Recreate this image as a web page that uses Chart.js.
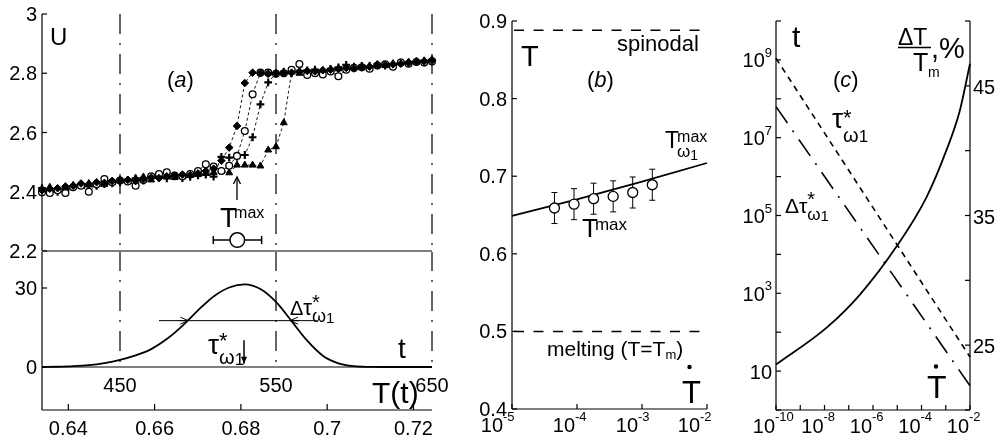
<!DOCTYPE html>
<html><head><meta charset="utf-8">
<script src="https://cdn.jsdelivr.net/npm/chart.js@4.4.1/dist/chart.umd.min.js"></script>
<style>
html,body{margin:0;padding:0;background:#fff;}
#wrap{position:relative;width:996px;height:441px;overflow:hidden;background:#fff;}
#wrap canvas{position:absolute;left:0;top:0;}
</style></head><body>
<div id="wrap">
<canvas id="cA1" width="996" height="441"></canvas>
<canvas id="cA2" width="996" height="441"></canvas>
<canvas id="cB" width="996" height="441"></canvas>
<canvas id="cC" width="996" height="441"></canvas>
</div>
<script>
// ================= DATA =================
// Panel (a), top: U(t) for four runs
const tGrid = [400,405,410,415,420,425,430,435,440,445,450,455,460,465,470,475,480,485,490,495,500,505,510,515,520,525,530,535,540,545,550,555,560,565,570,575,580,585,590,595,600,605,610,615,620,625,630,635,640,645,650];
const uDiamond = [2.405,2.410,2.412,2.418,2.420,2.428,2.425,2.432,2.430,2.436,
  2.438,2.440,2.436,2.442,2.448,2.446,2.452,2.455,2.458,2.456,
  2.462,2.470,2.478,2.505,2.549,2.622,2.767,2.802,2.800,2.798,
  2.800,2.800,2.802,2.805,2.808,2.806,2.810,2.812,2.815,2.818,
  2.816,2.820,2.822,2.826,2.828,2.830,2.832,2.835,2.838,2.840,2.842];
const uCircle = [2.398,2.396,2.405,2.396,2.415,2.420,2.400,2.425,2.443,2.432,
  2.438,2.435,2.420,2.440,2.452,2.460,2.466,2.455,2.452,2.460,
  2.470,2.493,2.485,2.470,2.488,2.521,2.605,2.729,2.802,2.802,
  2.798,2.800,2.812,2.831,2.794,2.800,2.796,2.806,2.790,2.812,
  2.818,2.820,2.815,2.826,2.830,2.822,2.836,2.832,2.838,2.836,2.840];
const uPlus = [2.412,2.405,2.400,2.410,2.416,2.425,2.418,2.420,2.426,2.428,
  2.432,2.440,2.445,2.438,2.450,2.448,2.445,2.452,2.446,2.450,
  2.455,2.458,2.451,2.518,2.515,2.518,2.524,2.584,2.695,2.769,
  2.800,2.805,2.800,2.808,2.810,2.812,2.808,2.815,2.820,2.828,
  2.818,2.825,2.822,2.830,2.826,2.832,2.836,2.834,2.840,2.842,2.845];
const uTriangle = [2.410,2.415,2.408,2.412,2.422,2.420,2.428,2.430,2.425,2.436,
  2.440,2.438,2.445,2.450,2.440,2.455,2.452,2.448,2.455,2.460,
  2.458,2.462,2.465,2.470,2.464,2.490,2.490,2.490,2.487,2.541,
  2.552,2.633,2.805,2.800,2.802,2.808,2.810,2.812,2.815,2.818,
  2.822,2.820,2.825,2.828,2.826,2.832,2.835,2.838,2.840,2.842,2.846];
const tVLines = [450, 550, 650];
const tmaxT = [525.2], tmaxU = [2.237], tmaxErrT = [509.8, 540.8];
const uTicks = [2.2, 2.4, 2.6, 2.8, 3.0];
const uTickLabels = ['2.2', '2.4', '2.6', '2.8', '3'];

// Panel (a), bottom: distribution of t
const gT   = [400,410,420,430,440,450,460,470,480,490,500,510,520,530,540,550,560,570,580,590,600,610,620,635,650];
const gVal = [0,0.1,0.3,0.7,1.5,2.7,4.4,6.8,10.6,15.6,21.5,26.8,30.2,31.4,29.6,24.7,17.4,10.0,4.3,1.4,0.3,0.05,0,0,0];
const halfLevel = 17.6, halfSpanT = [475, 576], halfHitT = [493.8, 559];
const gTicks = [0, 30];
const tLabelTicks = [450, 550, 650];
const TTicks = [0.64, 0.66, 0.68, 0.70, 0.72];
const TTickLabels = ['0.64', '0.66', '0.68', '0.7', '0.72'];

// Panel (b)
const bRate = [4.5e-5, 9e-5, 1.8e-4, 3.6e-4, 7.2e-4, 1.44e-3];
const bTmax = [0.659, 0.664, 0.671, 0.674, 0.679, 0.689];
const bErr  = [0.020, 0.020, 0.020, 0.020, 0.020, 0.020];
const bLineRate = [1e-5, 1e-4, 1e-3, 1e-2];
const bLineT    = [0.649, 0.670, 0.693, 0.717];
const bSpinodal = 0.888, bMelting = 0.5;
const bYTicks = [0.4, 0.5, 0.6, 0.7, 0.8, 0.9];
const bYTickLabels = ['0.4', '0.5', '0.6', '0.7', '0.8', '0.9'];
const bXTicks = [1e-5, 1e-4, 1e-3, 1e-2];
const bXExp = ['-5', '-4', '-3', '-2'];

// Panel (c)
const cTauRate = [1e-10, 1e-2],  cTau  = [1.1e9, 23];
const cDTauRate = [1e-10, 1e-2], cDTau = [6.3e7, 4.2];
const cUnderRate = [1e-10, 1.23e-8, 2.9e-7, 9.3e-6, 1.6e-4, 1.05e-3, 3.7e-3, 1e-2];
const cUnder     = [23.5, 26.35, 28.9, 32.6, 36.4, 40.0, 43.0, 46.7];
const cYTicks = [1,10,1e2,1e3,1e4,1e5,1e6,1e7,1e8,1e9,1e10];
const cYLabelTicks = [10, 1e3, 1e5, 1e7, 1e9];
const cYLabelExp = ['', '3', '5', '7', '9'];
const cRTicks = [20, 25, 30, 35, 40, 45, 50];
const cRLabelTicks = [25, 35, 45];
const cXTicks = [1e-10,1e-9,1e-8,1e-7,1e-6,1e-5,1e-4,1e-3,1e-2];
const cXLabelTicks = [1e-10, 1e-8, 1e-6, 1e-4, 1e-2];
const cXExp = ['-10', '-8', '-6', '-4', '-2'];

// annotation anchors (data units)
const tmaxArrow = {t: 525, from: 2.372, to: 2.45};
const tauArrow = {t: 529.5, from: 10.2, to: 1.2};

// ================= HELPERS =================
const W = 996, H = 441;
const FONT = '"Liberation Sans", Arial, Helvetica, sans-serif';
Chart.defaults.font.family = FONT;
Chart.defaults.color = '#000';

function setFont(ctx, s, it) { ctx.font = (it ? 'italic ' : '') + s + 'px ' + FONT; }
function seg(ctx, x1, y1, x2, y2, w = 1.2) {
  ctx.save(); ctx.strokeStyle = '#000'; ctx.lineWidth = w; ctx.setLineDash([]);
  ctx.beginPath(); ctx.moveTo(x1, y1); ctx.lineTo(x2, y2); ctx.stroke(); ctx.restore();
}
function txt(ctx, s, x, y, size, align = 'left', it = false) {
  ctx.save(); setFont(ctx, size, it); ctx.fillStyle = '#000'; ctx.textAlign = align;
  ctx.textBaseline = 'alphabetic'; ctx.fillText(s, x, y); ctx.restore();
}
function rich(ctx, x, y, runs, align = 'left') {
  ctx.save();
  let cx = 0, prev = 0, maxX = 0; const pos = [];
  runs.forEach(r => {
    setFont(ctx, r.s, r.it);
    const w = ctx.measureText(r.t).width;
    const st = (r.back ? prev : cx) + (r.dx || 0);
    pos.push(st); prev = st; cx = st + w; if (cx > maxX) maxX = cx;
  });
  const x0 = align === 'center' ? x - maxX / 2 : align === 'right' ? x - maxX : x;
  ctx.fillStyle = '#000'; ctx.textAlign = 'left'; ctx.textBaseline = 'alphabetic';
  runs.forEach((r, i) => { setFont(ctx, r.s, r.it); ctx.fillText(r.t, x0 + pos[i], y + (r.dy || 0)); });
  ctx.restore();
  return maxX;
}
function arrow(ctx, x1, y1, x2, y2, len = 7, half = 3, w = 1.3, fill = true) {
  seg(ctx, x1, y1, x2, y2, w);
  const a = Math.atan2(y2 - y1, x2 - x1);
  const bx = x2 - len * Math.cos(a), by = y2 - len * Math.sin(a);
  const px = -Math.sin(a) * half, py = Math.cos(a) * half;
  ctx.save(); ctx.fillStyle = '#000'; ctx.strokeStyle = '#000'; ctx.lineWidth = w; ctx.setLineDash([]);
  ctx.beginPath(); ctx.moveTo(bx + px, by + py); ctx.lineTo(x2, y2); ctx.lineTo(bx - px, by - py);
  if (fill) { ctx.closePath(); ctx.fill(); } else ctx.stroke();
  ctx.restore();
}
function dot(ctx, x, y, r) { ctx.save(); ctx.fillStyle = '#000'; ctx.beginPath(); ctx.arc(x, y, r, 0, Math.PI * 2); ctx.fill(); ctx.restore(); }
function pts(xs, ys) { return xs.map((x, i) => ({x, y: ys[i]})); }
function lineDS(data, o = {}) {
  return Object.assign({data, showLine: true, borderColor: '#000', backgroundColor: '#000', borderWidth: 1.5,
    pointRadius: 0, tension: 0, clip: false}, o);
}
function markDS(ys, style, o = {}) {
  return Object.assign({data: pts(tGrid, ys), showLine: true, borderColor: '#000', borderWidth: 0.9,
    borderDash: [3, 2.5], pointStyle: style, pointRadius: 3.6, pointBorderColor: '#000',
    pointBackgroundColor: '#000', pointBorderWidth: 1, clip: false}, o);
}
function makeChart(id, area, scales, datasets, deco) {
  return new Chart(document.getElementById(id), {
    type: 'scatter',
    data: {datasets},
    options: {
      responsive: false, maintainAspectRatio: false, animation: false, events: [],
      layout: {autoPadding: false, padding: {left: area.l, top: area.t, right: W - area.r, bottom: H - area.b}},
      plugins: {legend: {display: false}, tooltip: {enabled: false}},
      scales
    },
    plugins: [{id: 'deco_' + id, afterDraw: deco}]
  });
}
const DASHDOT = [20, 9, 2, 9];

// ================= PANEL (a) TOP =================
const A1sets = [
  markDS(uDiamond, 'rectRot', {pointRadius: 3.8}),
  markDS(uCircle, 'circle', {pointRadius: 3.4, pointBackgroundColor: '#fff', pointBorderWidth: 1.3}),
  markDS(uPlus, 'cross', {pointRadius: 3.9, pointBorderWidth: 2.2}),
  markDS(uTriangle, 'triangle', {pointRadius: 4}),
  {data: pts(tmaxT, tmaxU), pointStyle: 'circle', pointRadius: 7.3, pointBackgroundColor: '#fff',
   pointBorderColor: '#000', pointBorderWidth: 1.5, clip: false},
  lineDS(tmaxErrT.map(t => ({x: t, y: tmaxU[0]})), {borderWidth: 1.5, pointStyle: 'line', pointRotation: 90,
   pointRadius: 4, pointBorderWidth: 1.5, pointBorderColor: '#000'}),
];
tVLines.forEach(v => A1sets.push(lineDS([{x: v, y: 3}, {x: v, y: 2.2}], {borderWidth: 1.2, borderDash: DASHDOT})));

makeChart('cA1', {l: 42, r: 432, t: 14, b: 251}, {
  x: {type: 'linear', min: 400, max: 650, display: false},
  y: {type: 'linear', min: 2.2, max: 3.0, display: false}
}, A1sets, function (chart) {
  const {ctx, chartArea: ca} = chart, x = chart.scales.x, y = chart.scales.y;
  seg(ctx, ca.left, ca.top, ca.left, ca.bottom);
  const yb = y.getPixelForValue(uTicks[0]);
  seg(ctx, ca.left, yb, ca.right, yb);
  uTicks.forEach((v, i) => {
    const py = y.getPixelForValue(v);
    seg(ctx, ca.left, py, ca.left + 5, py);
    txt(ctx, uTickLabels[i], ca.left - 5, py + 7, 20, 'right');
  });
  txt(ctx, 'U', 50, 45, 24);
  rich(ctx, 167, 87, [{t: '(', s: 22}, {t: 'a', s: 22, it: 1}, {t: ')', s: 22}]);
  const ax = x.getPixelForValue(tmaxArrow.t);
  arrow(ctx, ax, y.getPixelForValue(tmaxArrow.from), ax, y.getPixelForValue(tmaxArrow.to), 7, 3.5, 1.3, false);
  rich(ctx, 220, 227, [{t: 'T', s: 28}, {t: 'max', s: 16, dy: -9, dx: -3}]);
});

// ================= PANEL (a) BOTTOM =================
const G_MIN = -16.33, G_MAX = 43.67;
const A2sets = [
  lineDS(pts(gT, gVal), {borderWidth: 1.8, cubicInterpolationMode: 'monotone'}),
  lineDS(halfSpanT.map(t => ({x: t, y: halfLevel})), {borderWidth: 1}),
];
tVLines.forEach(v => A2sets.push(lineDS([{x: v, y: G_MAX}, {x: v, y: 0}], {borderWidth: 1.2, borderDash: DASHDOT, borderDashOffset: 1})));

makeChart('cA2', {l: 42, r: 432, t: 252, b: 410}, {
  x: {type: 'linear', min: 400, max: 650, display: false},
  xT: {type: 'linear', axis: 'x', min: 0.6339, max: 0.7243, display: false},
  y: {type: 'linear', min: G_MIN, max: G_MAX, display: false}
}, A2sets, function (chart) {
  const {ctx, chartArea: ca} = chart, x = chart.scales.x, y = chart.scales.y, xT = chart.scales.xT;
  seg(ctx, ca.left, ca.top, ca.left, ca.bottom);
  const y0 = y.getPixelForValue(0);
  seg(ctx, ca.left, y0, ca.right, y0);
  seg(ctx, ca.left, ca.bottom, ca.right, ca.bottom);
  gTicks.forEach(v => {
    const py = y.getPixelForValue(v);
    seg(ctx, ca.left, py, ca.left + 5, py);
    txt(ctx, String(v), ca.left - 5, py + 7, 20, 'right');
  });
  tLabelTicks.forEach(v => txt(ctx, String(v), x.getPixelForValue(v), y0 + 24.7, 20, 'center'));
  TTicks.forEach((v, i) => {
    const px = xT.getPixelForValue(v);
    seg(ctx, px, ca.bottom, px, ca.bottom - 6);
    txt(ctx, TTickLabels[i], px, ca.bottom + 25, 20, 'center');
  });
  const hy = y.getPixelForValue(halfLevel);
  arrow(ctx, x.getPixelForValue(halfHitT[0]) - 9, hy, x.getPixelForValue(halfHitT[0]), hy, 8, 3.5, 1, false);
  arrow(ctx, x.getPixelForValue(halfHitT[1]) + 9, hy, x.getPixelForValue(halfHitT[1]), hy, 8, 3.5, 1, false);
  const tx = x.getPixelForValue(tauArrow.t);
  arrow(ctx, tx, y.getPixelForValue(tauArrow.from), tx, y.getPixelForValue(tauArrow.to), 7, 3, 1.5, true);
  txt(ctx, 't', 398, 358, 28);
  txt(ctx, 'T(t)', 372, 403, 30);
  rich(ctx, 208, 354, [{t: 'τ', s: 28}, {t: '*', s: 22, dy: -6}, {t: 'ω', s: 20, dy: 10, back: 1}, {t: '1', s: 17, dy: 11}]);
  rich(ctx, 290, 315, [{t: 'Δ', s: 20}, {t: 'τ', s: 22}, {t: '*', s: 20, dy: -6}, {t: 'ω', s: 18, dy: 7, back: 1}, {t: '1', s: 15, dy: 8}]);
});

// ================= PANEL (b) =================
const Bsets = [
  {data: pts(bRate, bTmax), pointStyle: 'circle', pointRadius: 5, pointBackgroundColor: '#fff',
   pointBorderColor: '#000', pointBorderWidth: 1.3, clip: false},
];
bRate.forEach((r, i) => Bsets.push(lineDS([{x: r, y: bTmax[i] - bErr[i]}, {x: r, y: bTmax[i] + bErr[i]}],
  {borderWidth: 1, pointStyle: 'line', pointRadius: 3, pointBorderWidth: 1, pointBorderColor: '#000'})));
Bsets.push(lineDS(pts(bLineRate, bLineT), {borderWidth: 1.8}));
Bsets.push(lineDS([{x: 1e-5, y: bSpinodal}, {x: 1e-2, y: bSpinodal}], {borderWidth: 1.5, borderDash: [10, 9.5], borderDashOffset: -2}));
Bsets.push(lineDS([{x: 1e-5, y: bMelting}, {x: 1e-2, y: bMelting}], {borderWidth: 1.5, borderDash: [10, 9.5], borderDashOffset: -2}));

makeChart('cB', {l: 512, r: 707, t: 21, b: 409}, {
  x: {type: 'logarithmic', min: 1e-5, max: 1e-2, display: false},
  y: {type: 'linear', min: 0.4, max: 0.9, display: false}
}, Bsets, function (chart) {
  const {ctx, chartArea: ca} = chart, x = chart.scales.x, y = chart.scales.y;
  seg(ctx, ca.left, ca.top, ca.left, ca.bottom);
  seg(ctx, ca.left, ca.bottom, ca.right, ca.bottom);
  bYTicks.forEach((v, i) => {
    const py = y.getPixelForValue(v);
    seg(ctx, ca.left, py, ca.left + 5, py);
    txt(ctx, bYTickLabels[i], ca.left - 5, py + 7, 20, 'right');
  });
  const shift = [-9, -2, -4, -7];
  bXTicks.forEach((v, i) => {
    const px = x.getPixelForValue(v);
    seg(ctx, px, ca.bottom, px, ca.bottom - 5);
    const xr = px + shift[i];
    txt(ctx, '10', xr, ca.bottom + 22.7, 20, 'right');
    txt(ctx, bXExp[i], xr, ca.bottom + 11.7, 13, 'left');
  });
  txt(ctx, 'T', 521, 66, 29);
  txt(ctx, 'spinodal', 617, 51, 22);
  rich(ctx, 587, 87, [{t: '(', s: 22}, {t: 'b', s: 22, it: 1}, {t: ')', s: 22}]);
  rich(ctx, 665, 148, [{t: 'T', s: 23}, {t: 'max', s: 16, dy: -6.5, dx: -2}, {t: 'ω', s: 17, dy: 9, back: 1}, {t: '1', s: 14, dy: 12}]);
  rich(ctx, 582, 237, [{t: 'T', s: 26}, {t: 'max', s: 17, dy: -7, dx: -3}]);
  rich(ctx, 547, 356, [{t: 'melting (T=T', s: 21}, {t: 'm', s: 13, dy: 2.5}, {t: ')', s: 21}]);
  txt(ctx, 'T', 682, 403, 31);
  dot(ctx, 689.5, 367, 2.2);
});

// ================= PANEL (c) =================
const Csets = [
  lineDS(pts(cUnderRate, cUnder), {yAxisID: 'yR', borderWidth: 1.8, cubicInterpolationMode: 'monotone'}),
  lineDS(pts(cTauRate, cTau), {borderWidth: 1.6, borderDash: [6, 5]}),
  lineDS(pts(cDTauRate, cDTau), {borderWidth: 1.6, borderDash: [20, 9, 2, 9]}),
];
makeChart('cC', {l: 776, r: 970, t: 21, b: 410}, {
  x: {type: 'logarithmic', min: 1e-10, max: 1e-2, display: false},
  y: {type: 'logarithmic', min: 1, max: 1e10, display: false},
  yR: {type: 'linear', axis: 'y', position: 'right', min: 20, max: 50, display: false}
}, Csets, function (chart) {
  const {ctx, chartArea: ca} = chart, x = chart.scales.x, y = chart.scales.y, yR = chart.scales.yR;
  seg(ctx, ca.left, ca.top, ca.left, ca.bottom);
  seg(ctx, ca.right, ca.top, ca.right, ca.bottom);
  seg(ctx, ca.left, ca.bottom, ca.right, ca.bottom);
  cYTicks.forEach(v => { const py = y.getPixelForValue(v); seg(ctx, ca.left, py, ca.left + 5, py); });
  cYLabelTicks.forEach((v, i) => {
    const py = y.getPixelForValue(v);
    ctx.save(); setFont(ctx, 13); const we = cYLabelExp[i] ? ctx.measureText(cYLabelExp[i]).width : 0; ctx.restore();
    const xr = ca.left - 4 - we;
    txt(ctx, '10', xr, py + 7.5, 20, 'right');
    if (cYLabelExp[i]) txt(ctx, cYLabelExp[i], xr, py - 3, 13, 'left');
  });
  cRTicks.forEach(v => { const py = yR.getPixelForValue(v); seg(ctx, ca.right, py, ca.right - 5, py); });
  cRLabelTicks.forEach(v => txt(ctx, String(v), ca.right + 3, yR.getPixelForValue(v) + 8, 20, 'left'));
  cXTicks.forEach(v => { const px = x.getPixelForValue(v); seg(ctx, px, ca.bottom, px, ca.bottom - 5); });
  cXLabelTicks.forEach((v, i) => {
    const px = x.getPixelForValue(v) - 1;
    txt(ctx, '10', px, ca.bottom + 23, 20, 'right');
    txt(ctx, cXExp[i], px, ca.bottom + 10.7, 13, 'left');
  });
  txt(ctx, 't', 792, 47, 30);
  rich(ctx, 833, 87, [{t: '(', s: 22}, {t: 'c', s: 22, it: 1}, {t: ')', s: 22}]);
  rich(ctx, 832, 128, [{t: 'τ', s: 28}, {t: '*', s: 22, dy: -3}, {t: 'ω', s: 20, dy: 13.5, back: 1}, {t: '1', s: 17, dy: 14}]);
  rich(ctx, 785, 213, [{t: 'Δ', s: 21}, {t: 'τ', s: 21}, {t: '*', s: 20, dy: -7}, {t: 'ω', s: 17, dy: 7, back: 1}, {t: '1', s: 15, dy: 8}]);
  txt(ctx, 'ΔT', 898, 45, 23);
  seg(ctx, 898, 47.5, 931, 47.5, 1.5);
  txt(ctx, 'T', 913, 71, 25);
  txt(ctx, 'm', 928, 77, 14);
  txt(ctx, ',%', 931, 58, 29);
  txt(ctx, 'T', 927, 398, 32);
  dot(ctx, 936, 366.5, 2.2);
});
</script>
</body></html>
